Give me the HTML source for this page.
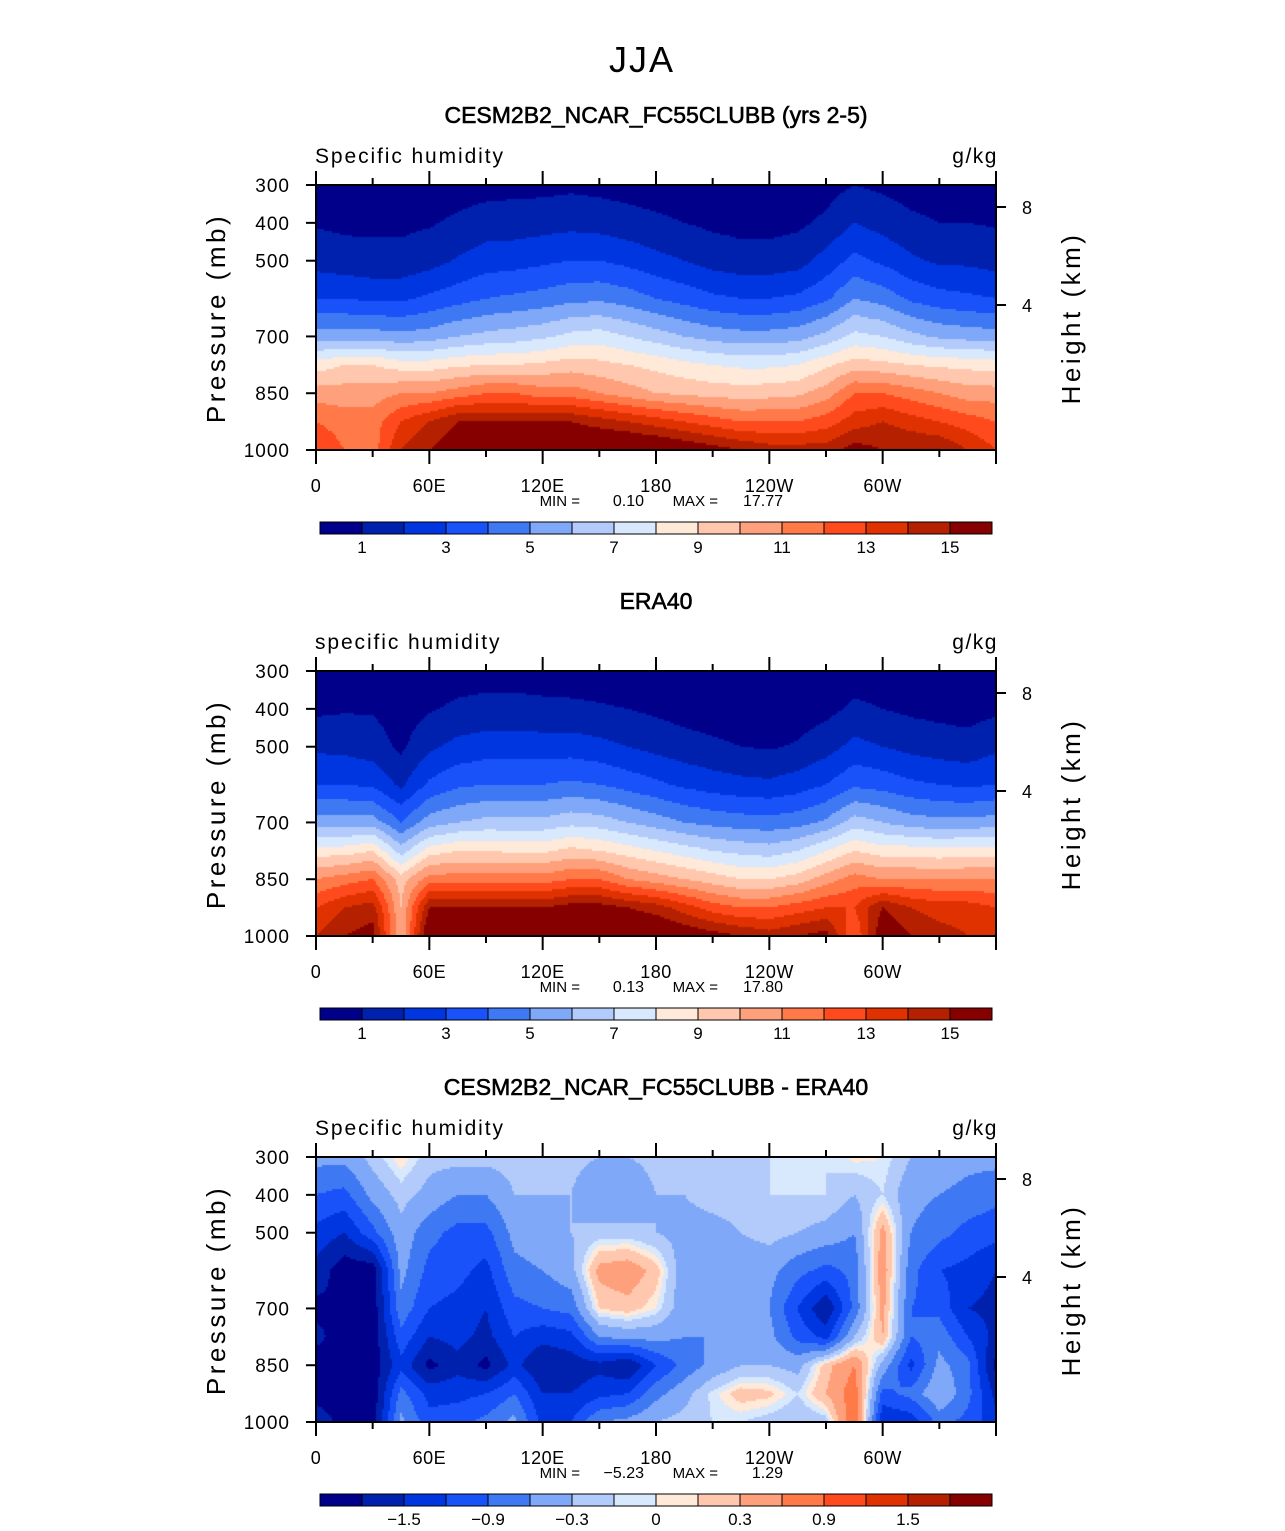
<!DOCTYPE html>
<html><head><meta charset="utf-8">
<style>
html,body{margin:0;padding:0;background:#fff;}
#wrap{position:relative;width:1285px;height:1531px;overflow:hidden;background:#fff;}
canvas{position:absolute;}
svg{position:absolute;left:0;top:0;}
text{font-family:"Liberation Sans",sans-serif;fill:#000;}
</style></head>
<body>
<div id="wrap">
<canvas id="c0" width="680" height="265" style="left:316px;top:185px"></canvas>
<canvas id="c1" width="680" height="265" style="left:316px;top:671px"></canvas>
<canvas id="c2" width="680" height="265" style="left:316px;top:1157px"></canvas>
<svg id="svg" width="1285" height="1531"></svg>
</div>
<script>
// ---- data ----
const lons = [0,15,30,45,60,75,90,105,120,135,150,165,180,195,210,225,240,255,270,285,300,315,330,345,360];
const pressures = [300,400,500,600,700,775,850,925,1000];
const modelQ = [
[0.3,0.9,1.6,3,5.5,8.5,10.5,12,13],
[0.3,0.8,1.4,3,5.5,9,10.5,11.5,12],
[0.3,0.8,1.3,2.8,5.5,9,10.5,11.5,11.5],
[0.3,0.8,1.3,2.8,5.3,8.5,11,13,14],
[0.4,0.9,1.6,3.2,5.5,8.5,11,14,15],
[0.5,1.2,2.1,3.6,6,8.8,11.5,15,16],
[0.6,1.5,2.5,4,6.3,9,12,15,16.5],
[0.7,1.5,2.6,4.2,6.5,9,12,15,16.5],
[0.7,1.6,2.8,4.4,6.8,9.2,11.5,15,16.5],
[0.8,1.7,3,4.7,7.3,9.5,11.5,15,16.5],
[0.7,1.6,3,4.8,7.5,9.3,11,14.5,16.8],
[0.6,1.4,2.7,4.5,7.0,9,10.5,14,16.8],
[0.5,1.2,2.3,4,6.5,8.7,10,13.5,16.5],
[0.4,1.0,2.0,3.6,6,8.3,9.8,13,16],
[0.3,0.8,1.6,3.2,5.6,8,9.6,12.5,15.5],
[0.3,0.7,1.4,3,5.4,7.8,9.5,12,15],
[0.3,0.7,1.4,3,5.4,7.8,9.6,12,14.5],
[0.4,0.8,1.6,3.2,5.6,8,9.8,12,14.5],
[0.6,1.2,2.4,3.8,6.3,8.8,10.5,12.5,14.5],
[1.0,2.0,3.3,5,7.3,9.5,12,13.5,15.5],
[0.8,1.6,2.8,4.6,7,9.3,12,14,15],
[0.6,1.2,2.2,3.8,6.3,9,11.5,13.5,15],
[0.5,1.0,1.8,3.4,5.8,8.8,11,13,15],
[0.4,1.0,1.8,3.2,5.6,8.7,10.5,12.5,14],
[0.3,0.9,1.6,3,5.5,8.5,10.5,12,13]];
const eraQ = [
[0.3,0.8,1.8,3.0,5.5,8.5,11,13,14],
[0.4,0.9,1.7,3.0,5.5,8.5,11.5,14,15],
[0.4,0.9,1.5,2.8,5.5,9,12,14.5,15.5],
[0.2,0.5,0.8,1.8,4,6.5,9.5,10,10],
[0.3,0.9,1.8,3.2,5.5,8.5,11.5,15,16.5],
[0.5,1.2,2.3,3.8,6.0,9,11.5,15,16.5],
[0.6,1.3,2.5,4,6.3,9,11.5,15,16.5],
[0.6,1.3,2.5,4,6.3,8.8,11.5,15,16.5],
[0.6,1.2,2.5,4,6.3,8.8,11.5,15,16.5],
[0.5,1.2,2.5,4.2,6.7,9.3,12,15.5,16.8],
[0.5,1.1,2.3,4.0,6.5,9.0,12,15.5,16.8],
[0.3,1.0,2.0,3.6,6.0,8.5,11,15,16.8],
[0.3,0.8,1.7,3.2,5.5,8.0,10.5,14.5,16.5],
[0.2,0.6,1.4,2.8,5.0,7.5,10,13.5,16],
[0.2,0.5,1.2,2.5,4.7,7.0,9.5,12.5,15.5],
[0.1,0.4,1.0,2.3,4.5,6.7,9.0,12,15],
[0.1,0.4,0.9,2.2,4.4,6.5,9.0,12,14.5],
[0.2,0.5,1.1,2.5,4.6,7,9.5,12.5,15],
[0.3,0.7,1.6,3,5.2,8,10.5,13,15.5],
[0.5,1.2,2.3,3.8,6.5,9,11.5,13,12],
[0.4,1.0,2.0,3.6,6.0,8.5,11,15,16],
[0.3,0.8,1.7,3.2,5.5,8.5,11,14,15],
[0.2,0.7,1.5,3,5.3,8.3,11,13.5,14.5],
[0.2,0.6,1.4,2.8,5.3,8.5,11,13.5,14],
[0.3,0.8,1.8,3.0,5.5,8.5,11,13,14]];
const diffQ = [
[-0.5,-0.9,-1.3,-1.6,-1.9,-1.7,-2,-2,-1.5],
[-0.5,-1.0,-1.5,-2,-1.8,-2,-2,-2,-2],
[-0.2,-0.5,-1.0,-2,-2,-2,-2,-2,-2],
[0.1,-0.2,-0.4,-0.5,-0.7,-1.0,-1.3,-0.8,-0.5],
[-0.2,-0.4,-0.8,-1.0,-1.2,-1.5,-1.9,-1.3,-1.1],
[-0.2,-0.6,-1.0,-1.1,-1.3,-1.4,-1.6,-1.3,-1.0],
[-0.2,-0.6,-1.0,-1.3,-1.5,-1.6,-1.9,-1.2,-0.8],
[-0.2,-0.3,-0.5,-0.7,-1.0,-1.2,-1.4,-0.9,-0.5],
[-0.2,-0.3,-0.4,-0.6,-0.9,-1.4,-1.8,-1.5,-1.3],
[-0.2,-0.3,-0.3,-0.4,-0.8,-1.3,-1.7,-1.5,-1.2],
[-0.3,-0.6,-0.2,0.4,0.1,-0.6,-1.6,-1.3,-0.6],
[-0.3,-0.6,-0.2,0.5,0.2,-0.5,-1.8,-1.2,-0.5],
[-0.2,-0.3,-0.3,0.2,0,-0.5,-1.2,-0.7,-0.3],
[-0.2,-0.3,-0.4,-0.5,-0.5,-0.6,-0.8,-0.4,-0.2],
[-0.1,-0.2,-0.4,-0.5,-0.5,-0.6,-0.5,-0.05,-0.1],
[-0.1,-0.2,-0.3,-0.5,-0.5,-0.5,-0.3,0.2,-0.1],
[-0.1,-0.1,-0.2,-0.5,-0.6,-0.5,-0.3,0.15,-0.2],
[-0.1,-0.1,-0.3,-0.8,-1.2,-1.0,-0.4,-0.1,-0.3],
[-0.1,-0.1,-0.4,-1.0,-1.8,-1.3,0.2,0.3,-0.2],
[0.05,-0.3,-0.6,-0.8,-0.8,-0.3,0.6,0.8,0.9],
[0,-0.1,0.4,0.5,0.4,0.3,-0.4,-1.0,-1.5],
[-0.3,-0.5,-0.6,-0.8,-0.9,-0.9,-1.3,-0.8,-1.4],
[-0.4,-0.6,-0.8,-1.2,-1.0,-0.7,-0.5,-0.3,-0.8],
[-0.5,-0.7,-1.0,-1.3,-1.5,-1.2,-0.8,-0.8,-1.0],
[-0.5,-0.8,-1.1,-1.5,-1.6,-1.6,-1.9,-1.6,-1.4]];
const qLevels = [1,2,3,4,5,6,7,8,9,10,11,12,13,14,15];
const dLevels = [-1.8,-1.5,-1.2,-0.9,-0.6,-0.3,-0.1,0,0.1,0.3,0.6,0.9,1.2,1.5,1.8];
const qLabels = ["1","3","5","7","9","11","13","15"];
const dLabels = ["\u22121.5","\u22120.9","\u22120.3","0","0.3","0.9","1.5"];
const xTickLons = [0,60,120,180,240,300];
const xTickLabels = ["0","60E","120E","180","120W","60W"];
const yTicks = [300,400,500,700,850,1000];
const hTicks = [{km:8,y:22},{km:4,y:120}];
const palette = ["#00008a","#0020ae","#0036e0","#1a52fa","#3f78f3","#80a8f8","#b2cbfa","#d8e8fd","#ffe9d9","#ffc8ae","#ffa07c","#ff7a48","#ff4a1e","#e03200","#b42000","#860000"];

// ---- axis functions ----
const PX0=316, PW=680, PH=265;
function xOf(lon){return lon/360*PW;}
function yOf(p){return (p-300)/700*PH;}
function interp(grid,lon,p){
  let i=Math.min(lons.length-2,Math.floor(lon/15)); let fx=(lon-lons[i])/15;
  let j=0; while(j<pressures.length-2 && p>pressures[j+1]) j++;
  let fy=(p-pressures[j])/(pressures[j+1]-pressures[j]);
  const a=grid[i][j],b=grid[i+1][j],c=grid[i][j+1],d=grid[i+1][j+1];
  return a*(1-fx)*(1-fy)+b*fx*(1-fy)+c*(1-fx)*fy+d*fx*fy;
}
function colorIdx(v,levels){let k=0;while(k<levels.length&&v+1e-6>=levels[k])k++;return k;}
function drawField(id,grid,levels){
  const ctx=document.getElementById(id).getContext('2d');
  const s=2;
  for(let px=0;px<PW;px+=s){
    for(let py=0;py<PH;py+=s){
      const lon=(px+s/2)/PW*360, p=300+(py+s/2)/PH*700;
      ctx.fillStyle=palette[colorIdx(interp(grid,lon,p),levels)];
      ctx.fillRect(px,py,s,s);
    }
  }
}
drawField('c0',modelQ,qLevels);
drawField('c1',eraQ,qLevels);
drawField('c2',diffQ,dLevels);

const NS='http://www.w3.org/2000/svg';
const svg=document.getElementById('svg');
function el(tag,attrs,txt){const e=document.createElementNS(NS,tag);for(const k in attrs)e.setAttribute(k,attrs[k]);if(txt!==undefined)e.textContent=txt;svg.appendChild(e);return e;}

let t=el('text',{x:642,y:72,'font-size':36,'text-anchor':'middle','letter-spacing':'2'},'JJA');



const panels=[
 {top:185,title:'CESM2B2_NCAR_FC55CLUBB (yrs 2-5)',sub:'Specific  humidity',mn:'0.10',mx:'17.77',labels:qLabels,lpos:[1,3,5,7,9,11,13,15],name:'model'},
 {top:671,title:'ERA40',sub:'specific  humidity',mn:'0.13',mx:'17.80',labels:qLabels,lpos:[1,3,5,7,9,11,13,15],name:'era40'},
 {top:1157,title:'CESM2B2_NCAR_FC55CLUBB - ERA40',sub:'Specific  humidity',mn:'\u22125.23',mx:'1.29',labels:dLabels,lpos:[2,4,6,8,10,12,14],name:'difference'}];
panels.forEach(P=>{
  const T=P.top;
  t=el('text',{x:656,y:T-62,'font-size':23,'text-anchor':'middle',stroke:'#000','stroke-width':0.6},P.title);
  
  
  t=el('text',{x:315,y:T-22,'font-size':21,'letter-spacing':'1.9'},P.sub);
  
  
  t=el('text',{x:998,y:T-22,'font-size':21,'text-anchor':'end','letter-spacing':'1.5'},'g/kg');
  
  
  let r=el('rect',{x:PX0,y:T,width:PW,height:PH,fill:'none',stroke:'#000','stroke-width':2});
  
  
  for(let lon=0;lon<=360;lon+=30){
    const x=PX0+xOf(lon), major=lon%60===0;
    const L=major?14:7;
    el('line',{x1:x,y1:T,x2:x,y2:T-L,stroke:'#000','stroke-width':2});
    el('line',{x1:x,y1:T+PH,x2:x,y2:T+PH+L,stroke:'#000','stroke-width':2});
  }
  xTickLons.forEach((lon,i)=>{
    t=el('text',{x:PX0+xOf(lon),y:T+PH+42,'font-size':18,'text-anchor':'middle','letter-spacing':'0.5'},xTickLabels[i]);
    
    
  });
  yTicks.forEach(p=>{
    const y=T+yOf(p);
    el('line',{x1:PX0-10,y1:y,x2:PX0,y2:y,stroke:'#000','stroke-width':2});
    t=el('text',{x:290,y:y+7,'font-size':19,'text-anchor':'end','letter-spacing':'1'},String(p));
    
    
  });
  hTicks.forEach(h=>{
    const y=T+h.y;
    el('line',{x1:PX0+PW,y1:y,x2:PX0+PW+10,y2:y,stroke:'#000','stroke-width':2});
    t=el('text',{x:1022,y:y+7,'font-size':18},String(h.km));
    
    
  });
  t=el('text',{x:0,y:0,'font-size':26,'text-anchor':'middle','letter-spacing':'3.5',transform:`translate(225,${T+133}) rotate(-90)`},'Pressure  (mb)');
  
  
  t=el('text',{x:0,y:0,'font-size':26,'text-anchor':'middle','letter-spacing':'3.5',transform:`translate(1080,${T+133}) rotate(-90)`},'Height  (km)');
  
  
  t=el('text',{x:580,y:T+PH+56,'font-size':15,'text-anchor':'end'},'MIN =');
  
  
  t=el('text',{x:644,y:T+PH+56,'font-size':16,'text-anchor':'end'},P.mn);
  
  
  t=el('text',{x:718,y:T+PH+56,'font-size':15,'text-anchor':'end'},'MAX =');
  
  
  t=el('text',{x:783,y:T+PH+56,'font-size':16,'text-anchor':'end'},P.mx);
  
  
  const cy=T+337, cw=42;
  palette.forEach((c,i)=>{
    const b=el('rect',{x:320+i*cw,y:cy,width:cw,height:12,fill:c,stroke:'#000','stroke-width':1});
    
    
  });
  P.labels.forEach((lab,i)=>{
    t=el('text',{x:320+P.lpos[i]*cw,y:cy+31,'font-size':17,'text-anchor':'middle'},lab);
    
    
  });
});
</script>
</body></html>
